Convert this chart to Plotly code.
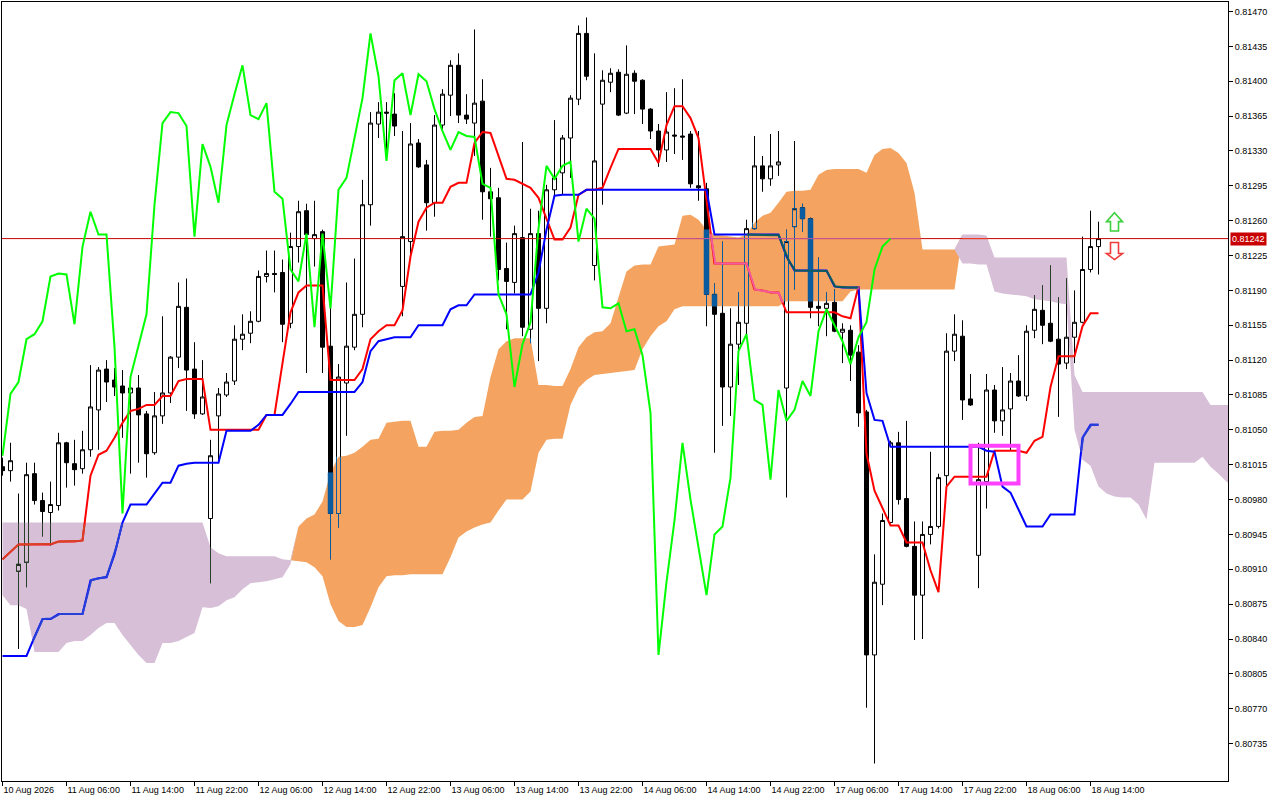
import plotly.graph_objects as go

# ---------------- data (hourly bars, 10 Aug 2026 22:00 -> 18 Aug 2026 15:00) ----------------
opens = [
0.81013, 0.81009, 0.80908, 0.80917, 0.81006, 0.80979, 0.80967, 0.80974, 0.81037, 0.81016,
0.81011, 0.81030, 0.81070, 0.81111, 0.81100, 0.81094, 0.81087, 0.81092, 0.81066, 0.81027,
0.81064, 0.81087, 0.81123, 0.81173, 0.81111, 0.81066, 0.80961, 0.81064, 0.81085, 0.81099,
0.81141, 0.81147, 0.81159, 0.81204, 0.81207, 0.81208, 0.81157, 0.81234, 0.81270, 0.81242,
0.81249, 0.81134, 0.80966, 0.81097, 0.81133, 0.81166, 0.81276, 0.81357, 0.81369, 0.81367,
0.81194, 0.81239, 0.81338, 0.81316, 0.81278, 0.81356, 0.81386, 0.81416, 0.81366, 0.81358,
0.81380, 0.81289, 0.81283, 0.81212, 0.81198, 0.81243, 0.81151, 0.81247, 0.81172, 0.81291,
0.81308, 0.81343, 0.81382, 0.81448, 0.81215, 0.81377, 0.81399, 0.81409, 0.81368, 0.81408,
0.81401, 0.81372, 0.81350, 0.81331, 0.81346, 0.81345, 0.81347, 0.81295, 0.81292, 0.81186,
0.81167, 0.81093, 0.81136, 0.81157, 0.81252, 0.81315, 0.81302, 0.81316, 0.81092, 0.81254,
0.81273, 0.81262, 0.81174, 0.81172, 0.81178, 0.81148, 0.81150, 0.81128, 0.81068, 0.80824,
0.80895, 0.80957, 0.81037, 0.80981, 0.80933, 0.80884, 0.80945, 0.80953, 0.81004, 0.81129,
0.81144, 0.81081, 0.80924, 0.80998, 0.81090, 0.81059, 0.81071, 0.81099, 0.81084, 0.81150,
0.81170, 0.81157, 0.81141, 0.81117, 0.81143, 0.81158, 0.81211, 0.81234]
highs = [
0.81022, 0.81037, 0.80986, 0.81017, 0.81017, 0.80987, 0.80998, 0.81047, 0.81038, 0.81040,
0.81049, 0.81115, 0.81113, 0.81120, 0.81112, 0.81110, 0.81102, 0.81105, 0.81069, 0.81088,
0.81164, 0.81124, 0.81198, 0.81202, 0.81138, 0.81120, 0.81040, 0.81092, 0.81107, 0.81155,
0.81166, 0.81169, 0.81210, 0.81230, 0.81230, 0.81221, 0.81248, 0.81280, 0.81277, 0.81280,
0.81251, 0.81184, 0.81116, 0.81198, 0.81222, 0.81301, 0.81369, 0.81379, 0.81379, 0.81388,
0.81350, 0.81358, 0.81342, 0.81321, 0.81366, 0.81392, 0.81421, 0.81428, 0.81387, 0.81452,
0.81402, 0.81313, 0.81293, 0.81238, 0.81255, 0.81339, 0.81272, 0.81270, 0.81296, 0.81361,
0.81346, 0.81386, 0.81456, 0.81464, 0.81428, 0.81411, 0.81413, 0.81412, 0.81436, 0.81411,
0.81402, 0.81373, 0.81357, 0.81389, 0.81393, 0.81402, 0.81350, 0.81350, 0.81298, 0.81197,
0.81239, 0.81172, 0.81188, 0.81261, 0.81345, 0.81325, 0.81347, 0.81350, 0.81251, 0.81340,
0.81277, 0.81263, 0.81223, 0.81188, 0.81191, 0.81157, 0.81155, 0.81135, 0.81070, 0.80925,
0.80966, 0.81039, 0.81048, 0.81059, 0.80958, 0.80958, 0.81028, 0.81006, 0.81147, 0.81166,
0.81160, 0.81106, 0.81037, 0.81106, 0.81095, 0.81113, 0.81107, 0.81125, 0.81155, 0.81185,
0.81195, 0.81215, 0.81183, 0.81202, 0.81190, 0.81244, 0.81270, 0.81259]
lows = [
0.81004, 0.80998, 0.80830, 0.80892, 0.80975, 0.80943, 0.80934, 0.80969, 0.80992, 0.80994,
0.81006, 0.81023, 0.81030, 0.81078, 0.81084, 0.81042, 0.81006, 0.81017, 0.81002, 0.81025,
0.81056, 0.81077, 0.81112, 0.81069, 0.81061, 0.81065, 0.80896, 0.81017, 0.81083, 0.81095,
0.81130, 0.81137, 0.81158, 0.81198, 0.81188, 0.81138, 0.81152, 0.81218, 0.81107, 0.81214,
0.81107, 0.80920, 0.80952, 0.81044, 0.81130, 0.81153, 0.81255, 0.81343, 0.81321, 0.81345,
0.81164, 0.81222, 0.81313, 0.81250, 0.81264, 0.81352, 0.81365, 0.81358, 0.81357, 0.81325,
0.81261, 0.81244, 0.81200, 0.81151, 0.81187, 0.81144, 0.81137, 0.81119, 0.81157, 0.81285,
0.81286, 0.81303, 0.81376, 0.81401, 0.81200, 0.81276, 0.81389, 0.81365, 0.81367, 0.81367,
0.81357, 0.81342, 0.81314, 0.81319, 0.81327, 0.81321, 0.81293, 0.81280, 0.81154, 0.81027,
0.81054, 0.81064, 0.81095, 0.81146, 0.81251, 0.81289, 0.81295, 0.81305, 0.80982, 0.81191,
0.81249, 0.81162, 0.81154, 0.81144, 0.81148, 0.81117, 0.81099, 0.81053, 0.80771, 0.80715,
0.80874, 0.80956, 0.80975, 0.80932, 0.80839, 0.80840, 0.80935, 0.80951, 0.80993, 0.81119,
0.81060, 0.81074, 0.80891, 0.80971, 0.81047, 0.81044, 0.81029, 0.81083, 0.81079, 0.81142,
0.81136, 0.81138, 0.81063, 0.81111, 0.81117, 0.81157, 0.81208, 0.81206]
closes = [
0.81009, 0.81019, 0.80915, 0.81005, 0.80979, 0.80968, 0.80975, 0.81037, 0.81017, 0.81010,
0.81030, 0.81073, 0.81110, 0.81098, 0.81093, 0.81087, 0.81092, 0.81065, 0.81026, 0.81064,
0.81087, 0.81123, 0.81174, 0.81110, 0.81066, 0.81083, 0.81024, 0.81086, 0.81098, 0.81141,
0.81146, 0.81159, 0.81204, 0.81207, 0.81206, 0.81156, 0.81234, 0.81269, 0.81246, 0.81246,
0.81133, 0.80966, 0.81103, 0.81134, 0.81166, 0.81276, 0.81358, 0.81369, 0.81368, 0.81355,
0.81244, 0.81337, 0.81314, 0.81278, 0.81356, 0.81387, 0.81416, 0.81366, 0.81362, 0.81378,
0.81289, 0.81282, 0.81211, 0.81199, 0.81247, 0.81153, 0.81247, 0.81172, 0.81291, 0.81303,
0.81343, 0.81383, 0.81448, 0.81405, 0.81320, 0.81401, 0.81408, 0.81366, 0.81407, 0.81400,
0.81372, 0.81350, 0.81331, 0.81349, 0.81345, 0.81344, 0.81297, 0.81293, 0.81186, 0.81166,
0.81093, 0.81136, 0.81158, 0.81252, 0.81315, 0.81302, 0.81315, 0.81319, 0.81239, 0.81272,
0.81262, 0.81173, 0.81172, 0.81177, 0.81149, 0.81151, 0.81125, 0.81067, 0.80824, 0.80897,
0.80959, 0.81037, 0.80980, 0.80933, 0.80884, 0.80945, 0.80953, 0.81002, 0.81129, 0.81146,
0.81080, 0.81075, 0.81000, 0.81090, 0.81059, 0.81070, 0.81099, 0.81084, 0.81149, 0.81171,
0.81155, 0.81139, 0.81116, 0.81143, 0.81158, 0.81211, 0.81234, 0.81242]

# Ichimoku lines
tenkan = [
0.80920, 0.80928, 0.80935, 0.80935, 0.80935, 0.80935, 0.80935, 0.80938, 0.80938, 0.80938,
0.80939, 0.81004, 0.81025, 0.81029, 0.81042, 0.81057, 0.81069, 0.81071, 0.81075, 0.81075,
0.81084, 0.81084, 0.81099, 0.81101, 0.81101, 0.81101, 0.81050, 0.81050, 0.81050, 0.81050,
0.81050, 0.81050, 0.81050, 0.81065, 0.81065, 0.81117, 0.81168, 0.81188, 0.81195, 0.81195,
0.81195, 0.81100, 0.81100, 0.81100, 0.81100, 0.81111, 0.81141, 0.81149, 0.81155, 0.81155,
0.81170, 0.81224, 0.81259, 0.81273, 0.81278, 0.81278, 0.81294, 0.81298, 0.81298, 0.81338,
0.81349, 0.81348, 0.81324, 0.81302, 0.81301, 0.81297, 0.81293, 0.81283, 0.81263, 0.81241,
0.81241, 0.81253, 0.81286, 0.81291, 0.81291, 0.81293, 0.81313, 0.81332, 0.81332, 0.81332,
0.81332, 0.81332, 0.81318, 0.81356, 0.81375, 0.81375, 0.81363, 0.81343, 0.81281, 0.81217,
0.81217, 0.81217, 0.81217, 0.81217, 0.81191, 0.81190, 0.81188, 0.81188, 0.81168, 0.81168,
0.81168, 0.81168, 0.81168, 0.81168, 0.81168, 0.81164, 0.81162, 0.81194, 0.81026, 0.80989,
0.80971, 0.80954, 0.80954, 0.80937, 0.80937, 0.80937, 0.80909, 0.80887, 0.80993, 0.81003,
0.81003, 0.81003, 0.81003, 0.81003, 0.81029, 0.81029, 0.81029, 0.81029, 0.81027, 0.81039,
0.81043, 0.81093, 0.81124, 0.81124, 0.81124, 0.81154, 0.81167, 0.81167]
kijun = [
0.80823, 0.80823, 0.80823, 0.80823, 0.80842, 0.80860, 0.80860, 0.80865, 0.80865, 0.80865,
0.80865, 0.80899, 0.80901, 0.80902, 0.80925, 0.80957, 0.80975, 0.80975, 0.80975, 0.80986,
0.80997, 0.80997, 0.81014, 0.81016, 0.81017, 0.81017, 0.81017, 0.81017, 0.81049, 0.81049,
0.81049, 0.81049, 0.81055, 0.81065, 0.81065, 0.81065, 0.81076, 0.81088, 0.81088, 0.81088,
0.81088, 0.81088, 0.81088, 0.81088, 0.81088, 0.81098, 0.81129, 0.81139, 0.81141, 0.81143,
0.81143, 0.81143, 0.81155, 0.81155, 0.81155, 0.81155, 0.81171, 0.81175, 0.81175, 0.81186,
0.81186, 0.81186, 0.81186, 0.81186, 0.81186, 0.81186, 0.81186, 0.81208, 0.81251, 0.81285,
0.81286, 0.81286, 0.81286, 0.81291, 0.81291, 0.81291, 0.81291, 0.81291, 0.81291, 0.81291,
0.81291, 0.81291, 0.81291, 0.81291, 0.81291, 0.81291, 0.81291, 0.81291, 0.81291, 0.81246,
0.81246, 0.81246, 0.81246, 0.81246, 0.81246, 0.81246, 0.81246, 0.81246, 0.81224, 0.81210,
0.81210, 0.81210, 0.81210, 0.81210, 0.81194, 0.81193, 0.81193, 0.81193, 0.81087, 0.81060,
0.81059, 0.81033, 0.81033, 0.81033, 0.81033, 0.81033, 0.81033, 0.81033, 0.81033, 0.81033,
0.81033, 0.81033, 0.81033, 0.81029, 0.81028, 0.80993, 0.80987, 0.80970, 0.80953, 0.80953,
0.80953, 0.80965, 0.80965, 0.80965, 0.80965, 0.81042, 0.81055, 0.81055]
# Senkou spans (already shifted 26 bars forward, so they run past the last candle)
span_a = [
0.80884, 0.80874, 0.80874, 0.80870, 0.80827, 0.80827, 0.80827, 0.80827, 0.80836, 0.80838,
0.80838, 0.80844, 0.80851, 0.80856, 0.80856, 0.80844, 0.80834, 0.80824, 0.80816, 0.80816,
0.80836, 0.80836, 0.80838, 0.80842, 0.80846, 0.80872, 0.80871, 0.80873, 0.80879, 0.80882,
0.80890, 0.80896, 0.80897, 0.80898, 0.80900, 0.80902, 0.80915, 0.80953, 0.80961, 0.80965,
0.80978, 0.81007, 0.81023, 0.81024, 0.81027, 0.81033, 0.81040, 0.81041, 0.81057, 0.81058,
0.81059, 0.81059, 0.81033, 0.81033, 0.81048, 0.81049, 0.81049, 0.81050, 0.81057, 0.81063,
0.81064, 0.81103, 0.81131, 0.81139, 0.81142, 0.81142, 0.81142, 0.81095, 0.81095, 0.81094,
0.81094, 0.81111, 0.81133, 0.81143, 0.81148, 0.81149, 0.81157, 0.81183, 0.81209, 0.81215,
0.81216, 0.81216, 0.81234, 0.81235, 0.81236, 0.81265, 0.81266, 0.81261, 0.81251, 0.81246,
0.81245, 0.81244, 0.81243, 0.81246, 0.81258, 0.81265, 0.81268, 0.81278, 0.81289, 0.81290,
0.81290, 0.81291, 0.81306, 0.81311, 0.81312, 0.81312, 0.81312, 0.81312, 0.81308, 0.81326,
0.81332, 0.81333, 0.81328, 0.81318, 0.81288, 0.81231, 0.81231, 0.81231, 0.81231, 0.81231,
0.81217, 0.81217, 0.81216, 0.81216, 0.81189, 0.81187, 0.81186, 0.81185, 0.81184, 0.81181,
0.81180, 0.81179, 0.81177, 0.81176, 0.81050, 0.81020, 0.81014, 0.80993, 0.80986, 0.80983,
0.80982, 0.80982, 0.80975, 0.80960, 0.81017, 0.81017, 0.81017, 0.81017, 0.81017, 0.81017,
0.81023, 0.81013, 0.81006, 0.80998, 0.80994]
span_b = [
0.80957, 0.80957, 0.80957, 0.80957, 0.80957, 0.80957, 0.80957, 0.80957, 0.80957, 0.80957,
0.80957, 0.80957, 0.80957, 0.80957, 0.80957, 0.80957, 0.80957, 0.80957, 0.80957, 0.80957,
0.80957, 0.80957, 0.80957, 0.80957, 0.80957, 0.80957, 0.80932, 0.80926, 0.80923, 0.80923,
0.80923, 0.80923, 0.80923, 0.80923, 0.80923, 0.80920, 0.80919, 0.80918, 0.80917, 0.80912,
0.80903, 0.80875, 0.80858, 0.80852, 0.80852, 0.80854, 0.80872, 0.80892, 0.80903, 0.80904,
0.80904, 0.80905, 0.80905, 0.80905, 0.80905, 0.80905, 0.80922, 0.80942, 0.80948, 0.80952,
0.80955, 0.80957, 0.80969, 0.80980, 0.80980, 0.80980, 0.80988, 0.81027, 0.81040, 0.81041,
0.81041, 0.81075, 0.81092, 0.81100, 0.81105, 0.81106, 0.81107, 0.81108, 0.81109, 0.81110,
0.81131, 0.81144, 0.81154, 0.81159, 0.81171, 0.81174, 0.81174, 0.81174, 0.81174, 0.81174,
0.81174, 0.81174, 0.81174, 0.81174, 0.81174, 0.81174, 0.81174, 0.81174, 0.81179, 0.81179,
0.81179, 0.81179, 0.81179, 0.81179, 0.81179, 0.81179, 0.81189, 0.81191, 0.81191, 0.81191,
0.81191, 0.81191, 0.81191, 0.81191, 0.81191, 0.81191, 0.81191, 0.81191, 0.81191, 0.81191,
0.81246, 0.81246, 0.81246, 0.81245, 0.81223, 0.81223, 0.81223, 0.81223, 0.81223, 0.81223,
0.81223, 0.81223, 0.81223, 0.81223, 0.81105, 0.81088, 0.81088, 0.81088, 0.81088, 0.81088,
0.81088, 0.81088, 0.81088, 0.81088, 0.81088, 0.81088, 0.81088, 0.81088, 0.81088, 0.81088,
0.81088, 0.81075, 0.81075, 0.81075, 0.81075]

x_tick_bars = [0, 8, 16, 24, 32, 40, 48, 56, 64, 72, 80, 88, 96, 104, 112, 120, 128, 136]
x_tick_labels = ["10 Aug 2026", "11 Aug 06:00", "11 Aug 14:00", "11 Aug 22:00", "12 Aug 06:00",
                 "12 Aug 14:00", "12 Aug 22:00", "13 Aug 06:00", "13 Aug 14:00", "13 Aug 22:00",
                 "14 Aug 06:00", "14 Aug 14:00", "14 Aug 22:00", "17 Aug 06:00", "17 Aug 14:00",
                 "17 Aug 22:00", "18 Aug 06:00", "18 Aug 14:00"]
price_ticks = [0.80735, 0.80770, 0.80805, 0.80840, 0.80875, 0.80910, 0.80945, 0.80980, 0.81015,
               0.81050, 0.81085, 0.81120, 0.81155, 0.81190, 0.81225, 0.81260, 0.81295, 0.81330,
               0.81365, 0.81400, 0.81435, 0.81470]
price_tick_labels = ["%.5f" % v for v in price_ticks]

last_price = 0.81242
box_bar0, box_bar1, box_price0, box_price1 = 121, 127, 0.80996, 0.81034
signal_bar, up_arrow_price, down_arrow_price = 139, 0.81259, 0.81227
CHIKOU_SHIFT = 26

# ---------------- geometry / styling ----------------
N = len(opens)
bars = list(range(N))
M = len(span_a)
cloud_x = list(range(M))
X_MIN, X_MAX = -0.0625, 153.1875
Y_MIN, Y_MAX = 0.8069743, 0.8147955
HALF_BODY = 0.25

ORANGE = (244, 164, 96)
THISTLE = (216, 191, 216)
RED = (0xFF, 0, 0)
BLUE = (0, 0, 0xFF)
BLACK = (0, 0, 0)
BIDLINE = (200, 0, 0)
CLOUDS = {'o': ORANGE, 't': THISTLE}
FONT = "Liberation Sans"

# outline arrows (pixel offsets around their anchor, y up)
UP_ARROW = "M0,9 L8,0 L4,0 L4,-9.4 L-4,-9.4 L-4,0 L-8,0 Z"
DOWN_ARROW = "M0,-6 L8,0 L4,0 L4,11 L-4,11 L-4,0 L-8,0 Z"


def rgb(c):
    return 'rgb(%d,%d,%d)' % c


def xor_on(c, cloud):
    # MetaTrader paints the cloud in XOR mode over what is beneath it
    return rgb(tuple(v ^ (255 - k) for v, k in zip(c, cloud)))


def cloud_at(x):
    if x <= 0:
        return span_a[0], span_b[0]
    if x >= M - 1:
        return span_a[-1], span_b[-1]
    i = int(x)
    t = x - i
    return (span_a[i] + (span_a[i + 1] - span_a[i]) * t,
            span_b[i] + (span_b[i + 1] - span_b[i]) * t)


def kind_at(x, p):
    a, b = cloud_at(x)
    if a > b and b < p < a:
        return 'o'
    if b > a and a < p < b:
        return 't'
    return None


def split_line(xs, ys, step=1 / 32):
    px, py = [], []
    for k in range(len(xs) - 1):
        n = max(1, int(round((xs[k + 1] - xs[k]) / step)))
        for j in range(n):
            t = j / n
            px.append(xs[k] + (xs[k + 1] - xs[k]) * t)
            py.append(ys[k] + (ys[k + 1] - ys[k]) * t)
    px.append(xs[-1])
    py.append(ys[-1])
    res = {'o': ([], []), 't': ([], [])}
    for x, y in zip(px, py):
        k = kind_at(x, y)
        for key, (X, Y) in res.items():
            if key == k:
                X.append(x)
                Y.append(y)
            elif X and X[-1] is not None:
                X.append(None)
                Y.append(None)
    return res


upper = [max(a, b) for a, b in zip(span_a, span_b)]


def band_path(top, bottom):
    pts = list(zip(cloud_x, top)) + list(zip(cloud_x[::-1], bottom[::-1]))
    return 'M' + ' L'.join('%s,%.7f' % (x, y) for x, y in pts) + ' Z'


fig = go.Figure()

# last price line
fig.add_trace(go.Scatter(x=[X_MIN, X_MAX], y=[last_price, last_price], mode='lines',
                         line=dict(color=rgb(BIDLINE), width=1), hoverinfo='skip', showlegend=False))

# candles
fig.add_trace(go.Candlestick(
    x=bars, open=opens, high=highs, low=lows, close=closes,
    increasing=dict(line=dict(color='black', width=1), fillcolor='rgba(255,255,255,0)'),
    decreasing=dict(line=dict(color='black', width=1), fillcolor='black'),
    whiskerwidth=0, hoverinfo='skip', showlegend=False))

# tenkan / kijun
fig.add_trace(go.Scatter(x=bars, y=tenkan, mode='lines', line=dict(color=rgb(RED), width=2),
                         hoverinfo='skip', showlegend=False))
fig.add_trace(go.Scatter(x=bars, y=kijun, mode='lines', line=dict(color=rgb(BLUE), width=2),
                         hoverinfo='skip', showlegend=False))

# XOR look of everything the cloud covers
wick_ov = {'o': ([], []), 't': ([], [])}
side_ov = {'o': ([], []), 't': ([], [])}
body_ov = {'o': ([], []), 't': ([], [])}
for i in bars:
    a, b = span_a[i], span_b[i]
    if a == b:
        continue
    key = 'o' if a > b else 't'
    lo, hi = min(a, b), max(a, b)
    btm, top = min(opens[i], closes[i]), max(opens[i], closes[i])
    for s0, s1 in ((lows[i], btm), (top, highs[i])):
        u0, u1 = max(s0, lo), min(s1, hi)
        if u1 > u0:
            wick_ov[key][0].extend([i, i, None])
            wick_ov[key][1].extend([u0, u1, None])
    u0, u1 = max(btm, lo), min(top, hi)
    if closes[i] < opens[i]:
        if u1 > u0:
            w = HALF_BODY + 0.0625
            body_ov[key][0].extend([i - w, i + w, i + w, i - w, i - w, None])
            body_ov[key][1].extend([u0, u0, u1, u1, u0, None])
    else:
        if u1 > u0:
            for dx in (-HALF_BODY, HALF_BODY):
                side_ov[key][0].extend([i + dx, i + dx, None])
                side_ov[key][1].extend([u0, u1, None])
        for edge in (btm, top):
            if lo < edge < hi:
                side_ov[key][0].extend([i - HALF_BODY, i + HALF_BODY, None])
                side_ov[key][1].extend([edge, edge, None])

for key, cl in CLOUDS.items():
    col = xor_on(BLACK, cl)
    if body_ov[key][0]:
        fig.add_trace(go.Scatter(x=body_ov[key][0], y=body_ov[key][1], mode='lines', fill='toself',
                                 fillcolor=col, line=dict(color=col, width=0.5),
                                 hoverinfo='skip', showlegend=False))
    for ov in (wick_ov, side_ov):
        if ov[key][0]:
            fig.add_trace(go.Scatter(x=ov[key][0], y=ov[key][1], mode='lines',
                                     line=dict(color=col, width=1), hoverinfo='skip', showlegend=False))

for xs, ys, c, w in ((bars, tenkan, RED, 2), (bars, kijun, BLUE, 2),
                     ([X_MIN, X_MAX], [last_price, last_price], BIDLINE, 1)):
    parts = split_line(xs, ys)
    for key, cl in CLOUDS.items():
        X, Y = parts[key]
        if X:
            fig.add_trace(go.Scatter(x=X, y=Y, mode='lines', line=dict(color=xor_on(c, cl), width=w),
                                     hoverinfo='skip', showlegend=False))

# chikou span (close plotted 26 bars back)
fig.add_trace(go.Scatter(x=bars[:N - CHIKOU_SHIFT], y=closes[CHIKOU_SHIFT:], mode='lines',
                         line=dict(color='#00ff00', width=2), hoverinfo='skip', showlegend=False))

shapes = [
    dict(type='path', path=band_path(upper, span_b), xref='x', yref='y',
         fillcolor=rgb(ORANGE), line=dict(width=0), layer='below'),
    dict(type='path', path=band_path(upper, span_a), xref='x', yref='y',
         fillcolor=rgb(THISTLE), line=dict(width=0), layer='below'),
    dict(type='rect', xref='x', yref='y', x0=box_bar0, x1=box_bar1, y0=box_price0, y1=box_price1,
         line=dict(color='#ff40ff', width=4), fillcolor='rgba(0,0,0,0)', layer='above'),
    dict(type='path', xref='x', yref='y', xsizemode='pixel', ysizemode='pixel',
         xanchor=signal_bar, yanchor=up_arrow_price, path=UP_ARROW,
         fillcolor='white', line=dict(color='#3cd03c', width=1.6), layer='above'),
    dict(type='path', xref='x', yref='y', xsizemode='pixel', ysizemode='pixel',
         xanchor=signal_bar, yanchor=down_arrow_price, path=DOWN_ARROW,
         fillcolor='white', line=dict(color='#f03c3c', width=1.6), layer='above'),
]

annotations = [
    dict(xref='paper', yref='y', x=1, y=last_price, xanchor='left', yanchor='middle', xshift=2,
         text="%.5f" % last_price, showarrow=False, bgcolor='#c80000', borderpad=1,
         font=dict(family=FONT, size=9, color='white')),
]

fig.update_layout(
    width=1280, height=800,
    margin=dict(l=2, r=52, t=2, b=19, pad=0),
    paper_bgcolor='white', plot_bgcolor='white',
    showlegend=False, hovermode=False,
    boxgap=0.5, boxgroupgap=0,
    shapes=shapes, annotations=annotations,
    xaxis=dict(range=[X_MIN, X_MAX], showgrid=False, zeroline=False, showline=True, linecolor='black',
               linewidth=1, mirror=True, ticks='outside', ticklen=4, tickcolor='black', tickwidth=1,
               tickmode='array', tickvals=x_tick_bars, ticktext=x_tick_labels,
               ticklabelposition='outside right', rangeslider=dict(visible=False),
               tickfont=dict(family=FONT, size=9, color='black')),
    yaxis=dict(range=[Y_MIN, Y_MAX], side='right', showgrid=False, zeroline=False, showline=True,
               linecolor='black', linewidth=1, mirror=True, ticks='outside', ticklen=4,
               tickcolor='black', tickwidth=1, tickmode='array', tickvals=price_ticks,
               ticktext=price_tick_labels, tickfont=dict(family=FONT, size=9, color='black')),
)

fig.write_html("out.html", config={'displayModeBar': False},
               post_script="document.body.style.margin='0px';")
